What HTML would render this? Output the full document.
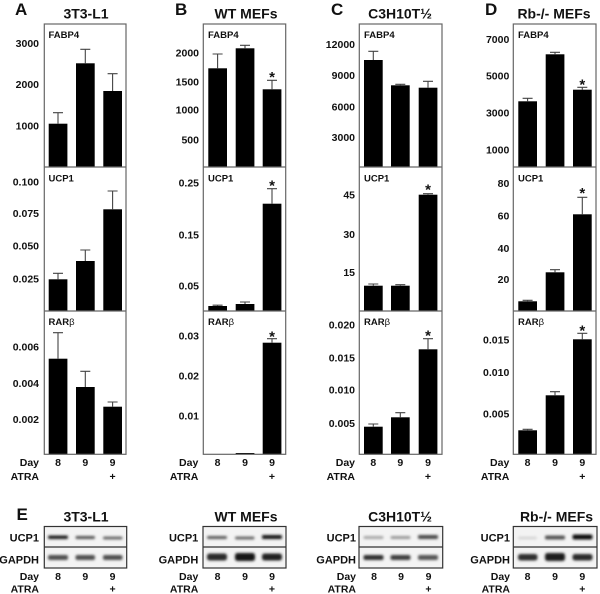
<!DOCTYPE html>
<html><head><meta charset="utf-8"><style>
html,body{margin:0;padding:0;background:#fff;}
svg{display:block;}
text{font-family:"Liberation Sans",Arial,sans-serif;font-weight:bold;fill:#111;}
.t{font-size:10.5px;text-anchor:end;}
.ttl{font-size:14px;text-anchor:middle;}
.let{font-size:17px;}
.in{font-size:9.5px;}
.c{font-size:10.5px;text-anchor:middle;}
.st{font-size:15px;text-anchor:middle;}
.fr{fill:none;stroke:#666;stroke-width:1.2;}
.eb{stroke:#444;stroke-width:1.1;fill:none;}
</style></head><body>
<svg width="600" height="594" viewBox="0 0 600 594" xmlns="http://www.w3.org/2000/svg">
<defs>
<filter id="bl" x="-30%" y="-100%" width="160%" height="300%"><feGaussianBlur stdDeviation="1.2"/></filter>
</defs>

<!-- Panel letters and titles -->
<text class="let" x="15" y="15">A</text>
<text class="let" x="175" y="15">B</text>
<text class="let" x="331" y="15">C</text>
<text class="let" x="485" y="15">D</text>
<text class="ttl" x="86" y="18.5">3T3-L1</text>
<text class="ttl" x="246" y="18.5">WT MEFs</text>
<text class="ttl" x="400" y="18.5">C3H10T½</text>
<text class="ttl" x="554" y="18.5">Rb-/- MEFs</text>

<!-- ================= Panel A ================= -->
<g>
<rect x="48.7" y="123.7" width="18.7" height="43.3" fill="#000"/>
<rect x="76" y="63.3" width="18.7" height="103.7" fill="#000"/>
<rect x="103.3" y="91" width="18.7" height="76" fill="#000"/>
<path class="eb" d="M58 123.7V112.7M53 112.7H63 M85.3 63.3V49.3M80.3 49.3H90.3 M112.6 91V73.7M107.6 73.7H117.6"/>
<rect x="48.7" y="279.3" width="18.7" height="31.7" fill="#000"/>
<rect x="76" y="261" width="18.7" height="50" fill="#000"/>
<rect x="103.3" y="209.3" width="18.7" height="101.7" fill="#000"/>
<path class="eb" d="M58 279.3V273.3M53 273.3H63 M85.3 261V250M80.3 250H90.3 M112.6 209.3V191M107.6 191H117.6"/>
<rect x="48.7" y="358.7" width="18.7" height="95.6" fill="#000"/>
<rect x="76" y="387" width="18.7" height="67.3" fill="#000"/>
<rect x="103.3" y="406.7" width="18.7" height="47.6" fill="#000"/>
<path class="eb" d="M58 358.7V332.7M53 332.7H63 M85.3 387V371.3M80.3 371.3H90.3 M112.6 406.7V402M107.6 402H117.6"/>
<rect class="fr" x="44.3" y="24" width="81.7" height="430.3"/>
<line class="fr" x1="44.3" y1="167" x2="126" y2="167"/>
<line class="fr" x1="44.3" y1="311" x2="126" y2="311"/>
<text class="in" x="48.5" y="38">FABP4</text>
<text class="in" x="48.5" y="181.5">UCP1</text>
<text class="in" x="48.5" y="325">RAR<tspan font-weight="normal">β</tspan></text>
<text class="t" x="39" y="47">3000</text>
<text class="t" x="39" y="88">2000</text>
<text class="t" x="39" y="129.7">1000</text>
<text class="t" x="39" y="185.4">0.100</text>
<text class="t" x="39" y="217">0.075</text>
<text class="t" x="39" y="249.7">0.050</text>
<text class="t" x="39" y="282.7">0.025</text>
<text class="t" x="39" y="350.4">0.006</text>
<text class="t" x="39" y="387">0.004</text>
<text class="t" x="39" y="423">0.002</text>
<text class="t" x="39" y="465.8">Day</text>
<text class="t" x="39" y="479.8">ATRA</text>
<text class="c" x="58" y="465.8">8</text>
<text class="c" x="85.3" y="465.8">9</text>
<text class="c" x="112.6" y="465.8">9</text>
<text class="c" x="112.6" y="479.8">+</text>
</g>

<!-- ================= Panel B ================= -->
<g>
<rect x="208.3" y="68.3" width="18.7" height="98.7" fill="#000"/>
<rect x="235.7" y="48.3" width="18.7" height="118.7" fill="#000"/>
<rect x="262.7" y="89.3" width="18.7" height="77.7" fill="#000"/>
<path class="eb" d="M217.6 68.3V54M212.6 54H222.6 M245 48.3V45.3M240 45.3H250 M272 89.3V80.3M267 80.3H277"/>
<text class="st" x="272" y="82">*</text>
<rect x="208.3" y="306" width="18.7" height="5" fill="#000"/>
<rect x="235.7" y="304" width="18.7" height="7" fill="#000"/>
<rect x="262.7" y="203.7" width="18.7" height="107.3" fill="#000"/>
<path class="eb" d="M217.6 306V305.2M212.6 305.2H222.6 M245 304V302M240 302H250 M272 203.7V188.7M267 188.7H277"/>
<text class="st" x="272" y="190.3">*</text>
<rect x="235.7" y="453" width="18.7" height="1.3" fill="#000"/>
<rect x="262.7" y="342.7" width="18.7" height="111.6" fill="#000"/>
<path class="eb" d="M272 342.7V338.7M267 338.7H277"/>
<text class="st" x="272" y="341.3">*</text>
<rect class="fr" x="203.3" y="24" width="82.4" height="430.3"/>
<line class="fr" x1="203.3" y1="167" x2="285.7" y2="167"/>
<line class="fr" x1="203.3" y1="311" x2="285.7" y2="311"/>
<text class="in" x="208" y="38">FABP4</text>
<text class="in" x="208" y="181.5">UCP1</text>
<text class="in" x="208" y="325">RAR<tspan font-weight="normal">β</tspan></text>
<text class="t" x="199" y="56.4">2000</text>
<text class="t" x="199" y="85.4">1500</text>
<text class="t" x="199" y="113.7">1000</text>
<text class="t" x="199" y="143.7">500</text>
<text class="t" x="199" y="186.4">0.25</text>
<text class="t" x="199" y="238.7">0.15</text>
<text class="t" x="199" y="289.4">0.05</text>
<text class="t" x="199" y="339.4">0.03</text>
<text class="t" x="199" y="379.4">0.02</text>
<text class="t" x="199" y="419.4">0.01</text>
<text class="t" x="198.3" y="465.8">Day</text>
<text class="t" x="198.3" y="479.8">ATRA</text>
<text class="c" x="217.6" y="465.8">8</text>
<text class="c" x="245" y="465.8">9</text>
<text class="c" x="272" y="465.8">9</text>
<text class="c" x="272" y="479.8">+</text>
</g>

<!-- ================= Panel C ================= -->
<g>
<rect x="364" y="60" width="18.7" height="107" fill="#000"/>
<rect x="391" y="85.3" width="18.7" height="81.7" fill="#000"/>
<rect x="418.7" y="87.7" width="18.7" height="79.3" fill="#000"/>
<path class="eb" d="M373.3 60V51.3M368.3 51.3H378.3 M400.3 85.3V84.3M395.3 84.3H405.3 M428 87.7V81.3M423 81.3H433"/>
<rect x="364" y="285.7" width="18.7" height="25.3" fill="#000"/>
<rect x="391" y="285.7" width="18.7" height="25.3" fill="#000"/>
<rect x="418.7" y="194.7" width="18.7" height="116.3" fill="#000"/>
<path class="eb" d="M373.3 285.7V284M368.3 284H378.3 M400.3 285.7V284.7M395.3 284.7H405.3 M428 194.7V193.7M423 193.7H433"/>
<text class="st" x="428" y="194.3">*</text>
<rect x="364" y="426.7" width="18.7" height="27.6" fill="#000"/>
<rect x="391" y="417.3" width="18.7" height="37" fill="#000"/>
<rect x="418.7" y="349.3" width="18.7" height="105" fill="#000"/>
<path class="eb" d="M373.3 426.7V424M368.3 424H378.3 M400.3 417.3V412.7M395.3 412.7H405.3 M428 349.3V338.7M423 338.7H433"/>
<text class="st" x="428" y="340.3">*</text>
<rect class="fr" x="359.3" y="24" width="82.7" height="430.3"/>
<line class="fr" x1="359.3" y1="167" x2="442" y2="167"/>
<line class="fr" x1="359.3" y1="311" x2="442" y2="311"/>
<text class="in" x="364" y="38">FABP4</text>
<text class="in" x="364" y="181.5">UCP1</text>
<text class="in" x="364" y="325">RAR<tspan font-weight="normal">β</tspan></text>
<text class="t" x="355" y="48">12000</text>
<text class="t" x="355" y="79">9000</text>
<text class="t" x="355" y="110.4">6000</text>
<text class="t" x="355" y="141">3000</text>
<text class="t" x="355" y="198.7">45</text>
<text class="t" x="355" y="238">30</text>
<text class="t" x="355" y="276">15</text>
<text class="t" x="355" y="328.7">0.020</text>
<text class="t" x="355" y="361.4">0.015</text>
<text class="t" x="355" y="393.7">0.010</text>
<text class="t" x="355" y="427">0.005</text>
<text class="t" x="355" y="465.8">Day</text>
<text class="t" x="355" y="479.8">ATRA</text>
<text class="c" x="373.3" y="465.8">8</text>
<text class="c" x="400.3" y="465.8">9</text>
<text class="c" x="428" y="465.8">9</text>
<text class="c" x="428" y="479.8">+</text>
</g>

<!-- ================= Panel D ================= -->
<g>
<rect x="518.3" y="101.3" width="18.7" height="65.7" fill="#000"/>
<rect x="545.7" y="54.3" width="18.7" height="112.7" fill="#000"/>
<rect x="573" y="89.7" width="18.7" height="77.3" fill="#000"/>
<path class="eb" d="M527.6 101.3V98.3M522.6 98.3H532.6 M555 54.3V52.3M550 52.3H560 M582.3 89.7V87.3M577.3 87.3H587.3"/>
<text class="st" x="582.3" y="89.6">*</text>
<rect x="518.3" y="301.3" width="18.7" height="9.7" fill="#000"/>
<rect x="545.7" y="272.3" width="18.7" height="38.7" fill="#000"/>
<rect x="573" y="214.3" width="18.7" height="96.7" fill="#000"/>
<path class="eb" d="M527.6 301.3V300.3M522.6 300.3H532.6 M555 272.3V269.7M550 269.7H560 M582.3 214.3V197.3M577.3 197.3H587.3"/>
<text class="st" x="582.3" y="197.9">*</text>
<rect x="518.3" y="430.3" width="18.7" height="24" fill="#000"/>
<rect x="545.7" y="395.3" width="18.7" height="59" fill="#000"/>
<rect x="573" y="339.3" width="18.7" height="115" fill="#000"/>
<path class="eb" d="M527.6 430.3V429.3M522.6 429.3H532.6 M555 395.3V391.7M550 391.7H560 M582.3 339.3V333.3M577.3 333.3H587.3"/>
<text class="st" x="582.3" y="335.3">*</text>
<rect class="fr" x="513.3" y="24" width="82.7" height="430.3"/>
<line class="fr" x1="513.3" y1="167" x2="596" y2="167"/>
<line class="fr" x1="513.3" y1="311" x2="596" y2="311"/>
<text class="in" x="518" y="38">FABP4</text>
<text class="in" x="518" y="181.5">UCP1</text>
<text class="in" x="518" y="325">RAR<tspan font-weight="normal">β</tspan></text>
<text class="t" x="509.3" y="43">7000</text>
<text class="t" x="509.3" y="79.7">5000</text>
<text class="t" x="509.3" y="116.4">3000</text>
<text class="t" x="509.3" y="153.7">1000</text>
<text class="t" x="509.3" y="187">80</text>
<text class="t" x="509.3" y="219.7">60</text>
<text class="t" x="509.3" y="252">40</text>
<text class="t" x="509.3" y="283">20</text>
<text class="t" x="509.3" y="343.7">0.015</text>
<text class="t" x="509.3" y="376">0.010</text>
<text class="t" x="509.3" y="417.7">0.005</text>
<text class="t" x="509.3" y="465.8">Day</text>
<text class="t" x="509.3" y="479.8">ATRA</text>
<text class="c" x="527.6" y="465.8">8</text>
<text class="c" x="555" y="465.8">9</text>
<text class="c" x="582.3" y="465.8">9</text>
<text class="c" x="582.3" y="479.8">+</text>
</g>

<!-- ================= Panel E (blots) ================= -->
<text class="let" x="16.5" y="520">E</text>
<text class="ttl" x="86" y="521.5">3T3-L1</text>
<text class="ttl" x="246" y="521.5">WT MEFs</text>
<text class="ttl" x="400" y="521.5">C3H10T½</text>
<text class="ttl" x="556.5" y="521.5">Rb-/- MEFs</text>

<!-- blot A -->
<rect x="44.3" y="526.5" width="82.4" height="41.5" fill="#f3f3f3"/>
<g filter="url(#bl)">
<rect x="48" y="535.5" width="20" height="3.5" rx="1.5" fill="#1a1a1a"/>
<rect x="75.5" y="536" width="19.5" height="3" rx="1.5" fill="#555"/>
<rect x="103" y="536.5" width="19.5" height="3" rx="1.5" fill="#6a6a6a"/>
<rect x="48" y="555" width="20" height="5" rx="2" fill="#505050"/>
<rect x="75.5" y="555" width="19.5" height="5" rx="2" fill="#505050"/>
<rect x="103" y="555" width="19.5" height="5" rx="2" fill="#505050"/>
</g>
<rect x="44.3" y="526.5" width="82.4" height="41.5" fill="none" stroke="#333" stroke-width="1.2"/>
<line x1="44.3" y1="547" x2="126.7" y2="547" stroke="#333" stroke-width="1.2"/>

<!-- blot B -->
<rect x="203" y="526.5" width="83" height="41.5" fill="#f3f3f3"/>
<g filter="url(#bl)">
<rect x="207" y="536" width="20" height="3" rx="1.5" fill="#5a5a5a"/>
<rect x="235" y="536.5" width="19.5" height="3" rx="1.5" fill="#6a6a6a"/>
<rect x="262" y="535" width="20" height="4" rx="1.5" fill="#151515"/>
<rect x="207" y="553.5" width="20" height="7" rx="2.5" fill="#2a2a2a"/>
<rect x="235" y="553" width="20" height="8" rx="2.5" fill="#151515"/>
<rect x="262" y="553.5" width="20" height="7" rx="2.5" fill="#222"/>
</g>
<rect x="203" y="526.5" width="83" height="41.5" fill="none" stroke="#333" stroke-width="1.2"/>
<line x1="203" y1="547" x2="286" y2="547" stroke="#333" stroke-width="1.2"/>

<!-- blot C -->
<rect x="359" y="526.5" width="83.7" height="41.5" fill="#f3f3f3"/>
<g filter="url(#bl)">
<rect x="363.5" y="536" width="20" height="3" rx="1.5" fill="#a8a8a8"/>
<rect x="390.5" y="536" width="20" height="3" rx="1.5" fill="#999"/>
<rect x="418" y="535" width="20" height="4" rx="1.5" fill="#4a4a4a"/>
<rect x="363.5" y="555" width="20" height="5" rx="2" fill="#2e2e2e"/>
<rect x="390.5" y="555" width="20" height="5" rx="2" fill="#3e3e3e"/>
<rect x="418" y="555" width="20" height="5" rx="2" fill="#555"/>
</g>
<rect x="359" y="526.5" width="83.7" height="41.5" fill="none" stroke="#333" stroke-width="1.2"/>
<line x1="359" y1="547" x2="442.7" y2="547" stroke="#333" stroke-width="1.2"/>

<!-- blot D -->
<rect x="513.3" y="526.5" width="83.7" height="41.5" fill="#f3f3f3"/>
<g filter="url(#bl)">
<rect x="518" y="536.5" width="19" height="3" rx="1.5" fill="#d8d8d8"/>
<rect x="545" y="535.5" width="20" height="4" rx="1.5" fill="#555"/>
<rect x="572.5" y="534.5" width="20" height="5" rx="2" fill="#0e0e0e"/>
<rect x="518" y="554" width="19.5" height="6.5" rx="2.5" fill="#2e2e2e"/>
<rect x="545" y="553" width="20" height="8" rx="2.5" fill="#1a1a1a"/>
<rect x="572.5" y="554" width="20" height="6.5" rx="2.5" fill="#2a2a2a"/>
</g>
<rect x="513.3" y="526.5" width="83.7" height="41.5" fill="none" stroke="#333" stroke-width="1.2"/>
<line x1="513.3" y1="547" x2="597" y2="547" stroke="#333" stroke-width="1.2"/>

<!-- blot labels -->
<g style="font-size:11px">
<text class="t" x="39" y="541.5" style="font-size:11px">UCP1</text>
<text class="t" x="39" y="563.5" style="font-size:11px">GAPDH</text>
<text class="t" x="198.3" y="541.5" style="font-size:11px">UCP1</text>
<text class="t" x="198.3" y="563.5" style="font-size:11px">GAPDH</text>
<text class="t" x="356" y="541.5" style="font-size:11px">UCP1</text>
<text class="t" x="356" y="563.5" style="font-size:11px">GAPDH</text>
<text class="t" x="510" y="541.5" style="font-size:11px">UCP1</text>
<text class="t" x="510" y="563.5" style="font-size:11px">GAPDH</text>
</g>
<text class="t" x="39" y="580">Day</text>
<text class="t" x="39" y="592.7">ATRA</text>
<text class="c" x="58" y="580">8</text>
<text class="c" x="85.3" y="580">9</text>
<text class="c" x="112.6" y="580">9</text>
<text class="c" x="112.6" y="592.7">+</text>
<text class="t" x="198.3" y="580">Day</text>
<text class="t" x="198.3" y="592.7">ATRA</text>
<text class="c" x="217.6" y="580">8</text>
<text class="c" x="245" y="580">9</text>
<text class="c" x="272" y="580">9</text>
<text class="c" x="272" y="592.7">+</text>
<text class="t" x="356" y="580">Day</text>
<text class="t" x="356" y="592.7">ATRA</text>
<text class="c" x="374" y="580">8</text>
<text class="c" x="401" y="580">9</text>
<text class="c" x="428.5" y="580">9</text>
<text class="c" x="428.5" y="592.7">+</text>
<text class="t" x="510" y="580">Day</text>
<text class="t" x="510" y="592.7">ATRA</text>
<text class="c" x="527.6" y="580">8</text>
<text class="c" x="555" y="580">9</text>
<text class="c" x="582.3" y="580">9</text>
<text class="c" x="582.3" y="592.7">+</text>
</svg>
</body></html>
